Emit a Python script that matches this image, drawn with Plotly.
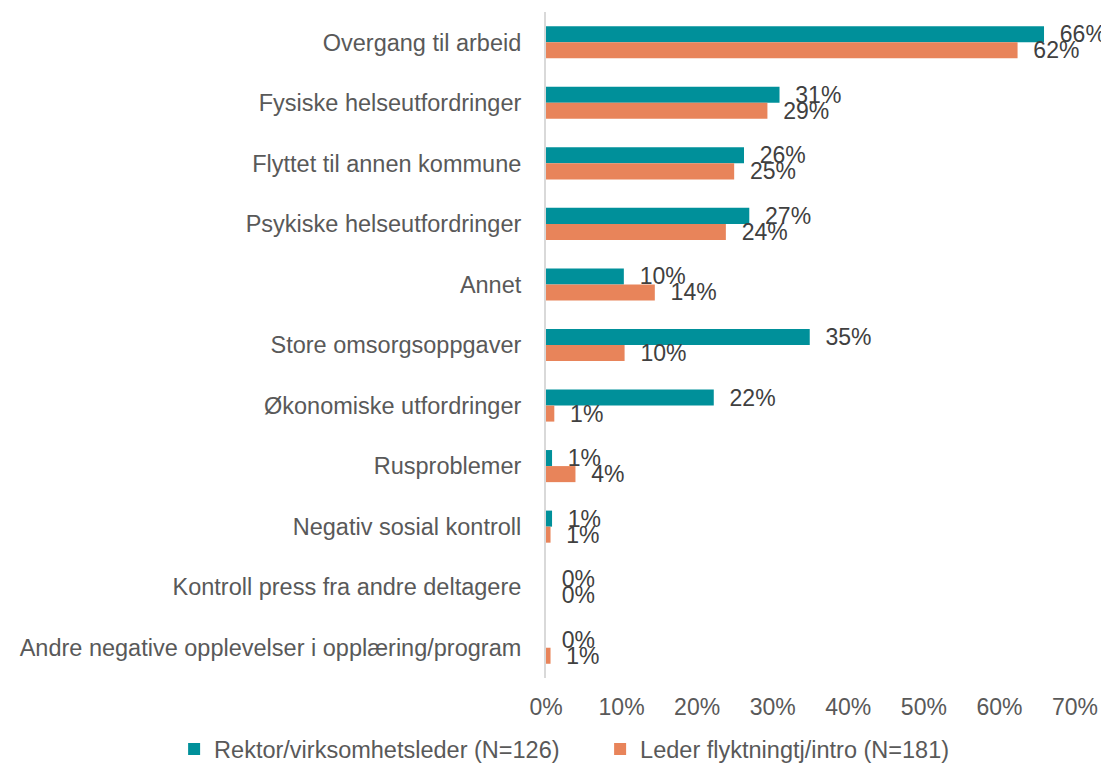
import plotly.graph_objects as go

categories = [
    "Overgang til arbeid",
    "Fysiske helseutfordringer",
    "Flyttet til annen kommune",
    "Psykiske helseutfordringer",
    "Annet",
    "Store omsorgsoppgaver",
    "Økonomiske utfordringer",
    "Rusproblemer",
    "Negativ sosial kontroll",
    "Kontroll press fra andre deltagere",
    "Andre negative opplevelser i opplæring/program",
]
rektor = [65.9, 30.9, 26.2, 26.9, 10.3, 34.9, 22.2, 0.8, 0.8, 0.0, 0.0]
leder = [62.4, 29.3, 24.9, 23.8, 14.4, 10.4, 1.1, 3.9, 0.6, 0.0, 0.6]
series_names = ["Rektor/virksomhetsleder (N=126)", "Leder flyktningtj/intro (N=181)"]
tick_vals = [0, 10, 20, 30, 40, 50, 60, 70]
tick_text = ["0%", "10%", "20%", "30%", "40%", "50%", "60%", "70%"]

TEAL = "#00909A"
ORANGE = "#E8845A"
FONT = "Liberation Sans, Arial, sans-serif"
FS = 23.5

fig = go.Figure()
for name, vals, col in [(series_names[0], rektor, TEAL), (series_names[1], leder, ORANGE)]:
    fig.add_trace(go.Bar(
        y=categories, x=vals, name=name, orientation="h",
        marker=dict(color=col, line=dict(width=0)),
        texttemplate="\u00a0\u00a0%{x:.0f}%", textposition="outside",
        textfont=dict(family=FONT, size=23, color="#404040"),
        constraintext="none", cliponaxis=False, textangle=0,
    ))

# page body has an 8px margin, so the figure is 8px smaller and margins shifted
fig.update_layout(
    width=1101, height=762,
    margin=dict(l=538, r=34, t=4, b=92, autoexpand=False),
    paper_bgcolor="white", plot_bgcolor="white",
    barmode="group", bargap=0.47, bargroupgap=0,
    font=dict(family=FONT, size=FS, color="#595959"),
    showlegend=True,
    legend=dict(
        orientation="h", x=-0.703, xanchor="left",
        y=-0.107, yanchor="middle",
        font=dict(family=FONT, size=FS, color="#595959"),
        traceorder="normal", itemwidth=30,
        entrywidth=381, entrywidthmode="pixels",
    ),
    xaxis=dict(
        range=[0, 70], tickvals=tick_vals, ticktext=tick_text,
        showgrid=False, zeroline=False, showline=False,
        ticks="", ticklabelstandoff=13,
        tickfont=dict(family=FONT, size=23, color="#595959"),
        fixedrange=True,
    ),
    yaxis=dict(
        categoryorder="array", categoryarray=categories,
        range=[10.5, -0.5], showgrid=False, zeroline=False,
        showline=True, linecolor="#D9D9D9", linewidth=2,
        ticks="", ticklabelstandoff=18,
        tickfont=dict(family=FONT, size=FS, color="#595959"),
        fixedrange=True,
    ),
)

fig.write_html("out.html")
